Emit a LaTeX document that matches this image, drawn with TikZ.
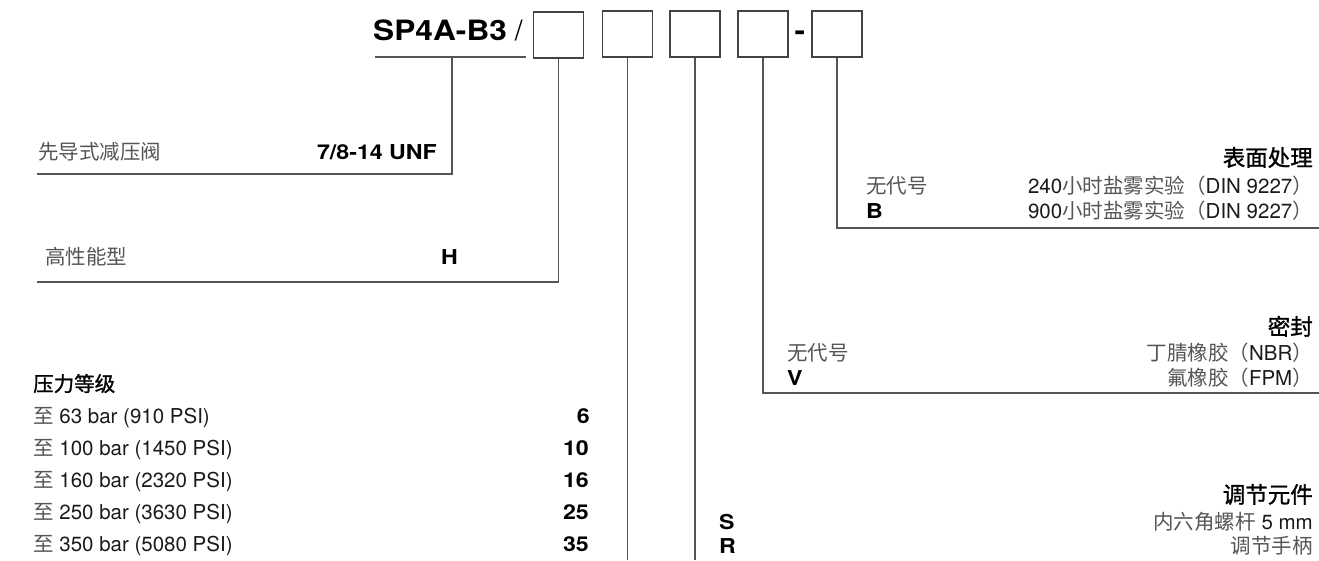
\documentclass[tikz,border=0pt]{standalone}
\usepackage{fontspec}
\setmainfont{TeX Gyre Heros}
\newfontfamily\bhv[FakeStretch=1.13]{TeX Gyre Heros}
\newfontfamily\cjk{Noto Sans CJK SC}
\newfontfamily\cjkb[FakeBold=1.2]{Noto Sans CJK SC}
\definecolor{cjkgray}{HTML}{555555}
\definecolor{txt}{HTML}{1A1A1A}
\definecolor{linegray}{HTML}{555555}
\newcommand\zh[1]{{\cjk\color{cjkgray}#1}}
\newcommand\zhb[1]{{\cjkb\color{black}#1}}
\newcommand\bd[1]{{\bhv\bfseries\color{black}#1}}
\begin{document}
\begin{tikzpicture}[x=1pt,y=-1pt,
  lbl/.style={inner sep=0pt, text height=14.7pt, text depth=0pt, font=\fontsize{20.5}{24}\selectfont, text=txt},
  lw/.style={lbl, anchor=west},
  le/.style={lbl, anchor=east},
  head/.style={inner sep=0pt, text height=16pt, text depth=0pt, font=\fontsize{22.5}{26}\selectfont, anchor=east},
  codebox/.style={draw=linegray!80!black, line width=1.4pt, minimum width=50pt, minimum height=46pt, inner sep=0pt},
  conn/.style={draw=linegray, line width=1.3pt}]
\useasboundingbox (0,0) rectangle (1319,560);

% title
\node[inner sep=0pt, anchor=west, text height=20pt, text depth=0pt, font=\fontsize{28}{32}\selectfont] (title) at (373,30) {\bd{SP4A-B3} {\fontsize{28}{32}\selectfont /}};
\coordinate (u1) at (375,57);
\coordinate (u2) at (526,57);
\coordinate (ut) at (452,57);
\draw[conn] (u1) -- (u2);

% boxes
\node[codebox] (b1) at (558.5,35) {};
\node[codebox] (b2) at (627.5,34) {};
\node[codebox] (b3) at (695,34) {};
\node[codebox] (b4) at (763,34) {};
\node[codebox] (b5) at (837,34) {};
\node[inner sep=0pt, text height=20pt, text depth=0pt, font=\fontsize{28}{32}\selectfont] (dash) at (800,30) {\bd{-}};

% end points of connectors
\coordinate (e0) at (37,174);
\coordinate (e1) at (37,282);
\coordinate (e2) at (627.5,560);
\coordinate (e3) at (695,560);
\coordinate (e4) at (1319,393);
\coordinate (e5) at (1319,228);

\draw[conn] (ut) |- (e0);
\draw[conn] (b1.south) |- (e1);
\draw[conn] (b2.south) -- (e2);
\draw[conn] (b3.south) -- (e3);
\draw[conn] (b4.south) |- (e4);
\draw[conn] (b5.south) |- (e5);

% left texts
\node[lw] (t1) at (38,152) {\zh{先导式减压阀}};
\node[le] (t1c) at (437,152) {\bd{7/8-14 UNF}};
\node[lw] (t2) at (45,257) {\zh{高性能型}};
\node[le] (t2c) at (458,257) {\bd{H}};

\node[lw] (p0) at (33,384) {\zhb{压力等级}};
\node[lw] (p1) at (33,416) {\zh{至} 63 bar (910 PSI)};
\node[lw] (p2) at (33,448) {\zh{至} 100 bar (1450 PSI)};
\node[lw] (p3) at (33,480) {\zh{至} 160 bar (2320 PSI)};
\node[lw] (p4) at (33,512) {\zh{至} 250 bar (3630 PSI)};
\node[lw] (p5) at (33,544) {\zh{至} 350 bar (5080 PSI)};
\node[le] (p1c) at (590,416) {\bd{6}};
\node[le] (p2c) at (589,448) {\bd{10}};
\node[le] (p3c) at (589,480) {\bd{16}};
\node[le] (p4c) at (589,512) {\bd{25}};
\node[le] (p5c) at (589,544) {\bd{35}};

% right texts: surface
\node[head] (s0) at (1313,158) {\zhb{表面处理}};
\node[lw] (s1) at (866,186) {\zh{无代号}};
\node[le] (s1t) at (1313,186) {240\zh{小时盐雾实验（}DIN 9227\zh{）}};
\node[lw] (s2) at (866,211) {\bd{B}};
\node[le] (s2t) at (1313,211) {900\zh{小时盐雾实验（}DIN 9227\zh{）}};

% seals
\node[head] (d0) at (1313,327) {\zhb{密封}};
\node[lw] (d1) at (787,353) {\zh{无代号}};
\node[le] (d1t) at (1313,353) {\zh{丁腈橡胶（}NBR\zh{）}};
\node[lw] (d2) at (787,378) {\bd{V}};
\node[le] (d2t) at (1313,378) {\zh{氟橡胶（}FPM\zh{）}};

% adjusting element
\node[head] (a0) at (1313,495) {\zhb{调节元件}};
\node[lw] (a1) at (719,522) {\bd{S}};
\node[le] (a1t) at (1313,522) {\zh{内六角螺杆} 5 mm};
\node[lw] (a2) at (719,546) {\bd{R}};
\node[le] (a2t) at (1313,546) {\zh{调节手柄}};
\end{tikzpicture}
\end{document}
